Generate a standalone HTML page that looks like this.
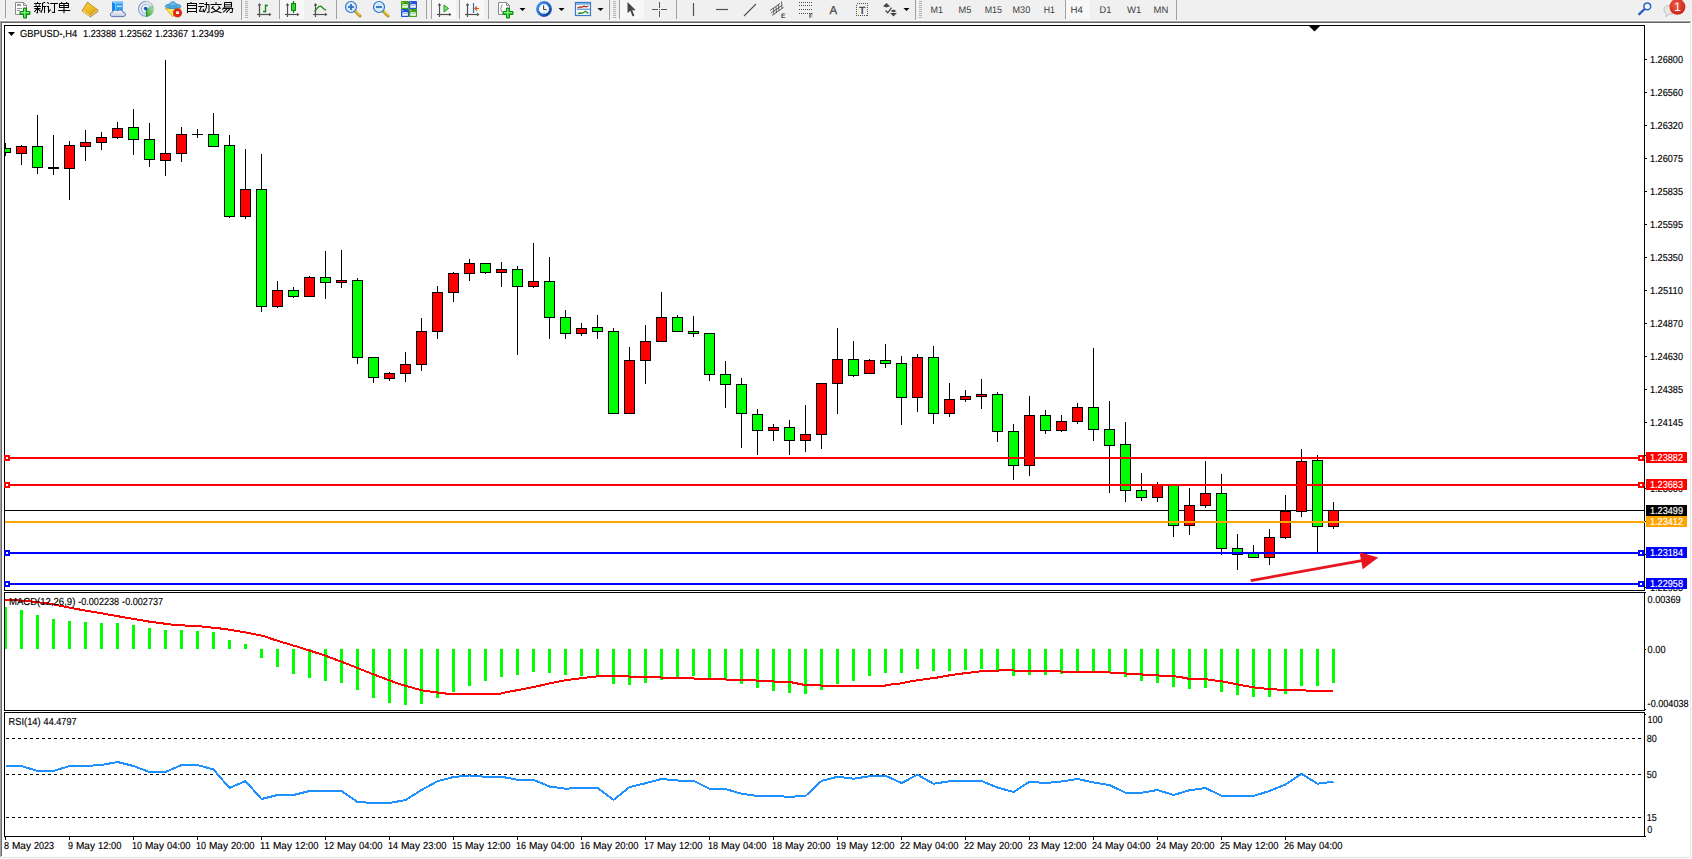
<!DOCTYPE html>
<html><head><meta charset="utf-8"><title>GBPUSD H4</title>
<style>html,body{margin:0;padding:0;background:#fff;}body{width:1692px;height:859px;overflow:hidden;font-family:"Liberation Sans",sans-serif;}svg{display:block;position:absolute;left:0;top:0;}text{font-family:"Liberation Sans",sans-serif;text-rendering:geometricPrecision;}</style></head><body>
<svg width="1692" height="859" viewBox="0 0 1692 859">
<rect x="0" y="0" width="1692" height="859" fill="#ffffff"/>
<g shape-rendering="crispEdges">
<rect x="0" y="0" width="1692" height="20" fill="#f0f0f0"/>
<rect x="0" y="20" width="1692" height="1" fill="#fbfbfb"/>
<rect x="0" y="21" width="1691" height="1" fill="#a0a0a0"/>
<rect x="1" y="22" width="1689" height="1" fill="#696969"/>
<rect x="0" y="21" width="1" height="836" fill="#a0a0a0"/>
<rect x="1" y="22" width="1" height="834" fill="#696969"/>
<rect x="1690" y="22" width="1" height="836" fill="#e3e3e3"/>
<rect x="1" y="857" width="1690" height="1" fill="#e3e3e3"/>
</g>
<g shape-rendering="crispEdges">
<clipPath id="cm"><rect x="4" y="25" width="1641" height="566"/></clipPath>
<rect x="5" y="510" width="1639" height="1" fill="#000"/>
<g clip-path="url(#cm)">
<rect x="5" y="143" width="1" height="13" fill="#000"/>
<rect x="0" y="148" width="11" height="5" fill="#000"/>
<rect x="1" y="149" width="9" height="3" fill="#00ff00"/>
<rect x="21" y="145" width="1" height="20" fill="#000"/>
<rect x="16" y="146" width="11" height="8" fill="#000"/>
<rect x="17" y="147" width="9" height="6" fill="#ff0000"/>
<rect x="37" y="115" width="1" height="59" fill="#000"/>
<rect x="32" y="146" width="11" height="22" fill="#000"/>
<rect x="33" y="147" width="9" height="20" fill="#00ff00"/>
<rect x="53" y="135" width="1" height="40" fill="#000"/>
<rect x="48" y="167" width="11" height="2" fill="#000"/>
<rect x="69" y="141" width="1" height="59" fill="#000"/>
<rect x="64" y="145" width="11" height="24" fill="#000"/>
<rect x="65" y="146" width="9" height="22" fill="#ff0000"/>
<rect x="85" y="130" width="1" height="31" fill="#000"/>
<rect x="80" y="142" width="11" height="5" fill="#000"/>
<rect x="81" y="143" width="9" height="3" fill="#ff0000"/>
<rect x="101" y="132" width="1" height="18" fill="#000"/>
<rect x="96" y="137" width="11" height="6" fill="#000"/>
<rect x="97" y="138" width="9" height="4" fill="#ff0000"/>
<rect x="117" y="122" width="1" height="17" fill="#000"/>
<rect x="112" y="128" width="11" height="10" fill="#000"/>
<rect x="113" y="129" width="9" height="8" fill="#ff0000"/>
<rect x="133" y="109" width="1" height="46" fill="#000"/>
<rect x="128" y="127" width="11" height="13" fill="#000"/>
<rect x="129" y="128" width="9" height="11" fill="#00ff00"/>
<rect x="149" y="123" width="1" height="44" fill="#000"/>
<rect x="144" y="139" width="11" height="21" fill="#000"/>
<rect x="145" y="140" width="9" height="19" fill="#00ff00"/>
<rect x="165" y="60" width="1" height="116" fill="#000"/>
<rect x="160" y="153" width="11" height="8" fill="#000"/>
<rect x="161" y="154" width="9" height="6" fill="#ff0000"/>
<rect x="181" y="127" width="1" height="35" fill="#000"/>
<rect x="176" y="134" width="11" height="20" fill="#000"/>
<rect x="177" y="135" width="9" height="18" fill="#ff0000"/>
<rect x="197" y="129" width="1" height="9" fill="#000"/>
<rect x="192" y="134" width="11" height="1" fill="#000"/>
<rect x="213" y="113" width="1" height="34" fill="#000"/>
<rect x="208" y="134" width="11" height="13" fill="#000"/>
<rect x="209" y="135" width="9" height="11" fill="#00ff00"/>
<rect x="229" y="135" width="1" height="83" fill="#000"/>
<rect x="224" y="145" width="11" height="72" fill="#000"/>
<rect x="225" y="146" width="9" height="70" fill="#00ff00"/>
<rect x="245" y="149" width="1" height="70" fill="#000"/>
<rect x="240" y="189" width="11" height="28" fill="#000"/>
<rect x="241" y="190" width="9" height="26" fill="#ff0000"/>
<rect x="261" y="154" width="1" height="158" fill="#000"/>
<rect x="256" y="189" width="11" height="118" fill="#000"/>
<rect x="257" y="190" width="9" height="116" fill="#00ff00"/>
<rect x="277" y="281" width="1" height="27" fill="#000"/>
<rect x="272" y="290" width="11" height="17" fill="#000"/>
<rect x="273" y="291" width="9" height="15" fill="#ff0000"/>
<rect x="293" y="287" width="1" height="11" fill="#000"/>
<rect x="288" y="290" width="11" height="7" fill="#000"/>
<rect x="289" y="291" width="9" height="5" fill="#00ff00"/>
<rect x="309" y="276" width="1" height="21" fill="#000"/>
<rect x="304" y="277" width="11" height="20" fill="#000"/>
<rect x="305" y="278" width="9" height="18" fill="#ff0000"/>
<rect x="325" y="251" width="1" height="48" fill="#000"/>
<rect x="320" y="277" width="11" height="6" fill="#000"/>
<rect x="321" y="278" width="9" height="4" fill="#00ff00"/>
<rect x="341" y="250" width="1" height="38" fill="#000"/>
<rect x="336" y="280" width="11" height="3" fill="#000"/>
<rect x="337" y="281" width="9" height="1" fill="#ff0000"/>
<rect x="357" y="278" width="1" height="86" fill="#000"/>
<rect x="352" y="280" width="11" height="78" fill="#000"/>
<rect x="353" y="281" width="9" height="76" fill="#00ff00"/>
<rect x="373" y="357" width="1" height="26" fill="#000"/>
<rect x="368" y="357" width="11" height="21" fill="#000"/>
<rect x="369" y="358" width="9" height="19" fill="#00ff00"/>
<rect x="389" y="372" width="1" height="9" fill="#000"/>
<rect x="384" y="373" width="11" height="6" fill="#000"/>
<rect x="385" y="374" width="9" height="4" fill="#ff0000"/>
<rect x="405" y="352" width="1" height="30" fill="#000"/>
<rect x="400" y="364" width="11" height="10" fill="#000"/>
<rect x="401" y="365" width="9" height="8" fill="#ff0000"/>
<rect x="421" y="318" width="1" height="53" fill="#000"/>
<rect x="416" y="331" width="11" height="34" fill="#000"/>
<rect x="417" y="332" width="9" height="32" fill="#ff0000"/>
<rect x="437" y="286" width="1" height="53" fill="#000"/>
<rect x="432" y="292" width="11" height="40" fill="#000"/>
<rect x="433" y="293" width="9" height="38" fill="#ff0000"/>
<rect x="453" y="272" width="1" height="30" fill="#000"/>
<rect x="448" y="273" width="11" height="20" fill="#000"/>
<rect x="449" y="274" width="9" height="18" fill="#ff0000"/>
<rect x="469" y="259" width="1" height="22" fill="#000"/>
<rect x="464" y="263" width="11" height="11" fill="#000"/>
<rect x="465" y="264" width="9" height="9" fill="#ff0000"/>
<rect x="485" y="263" width="1" height="11" fill="#000"/>
<rect x="480" y="263" width="11" height="10" fill="#000"/>
<rect x="481" y="264" width="9" height="8" fill="#00ff00"/>
<rect x="501" y="262" width="1" height="25" fill="#000"/>
<rect x="496" y="269" width="11" height="4" fill="#000"/>
<rect x="497" y="270" width="9" height="2" fill="#ff0000"/>
<rect x="517" y="266" width="1" height="89" fill="#000"/>
<rect x="512" y="269" width="11" height="18" fill="#000"/>
<rect x="513" y="270" width="9" height="16" fill="#00ff00"/>
<rect x="533" y="243" width="1" height="45" fill="#000"/>
<rect x="528" y="281" width="11" height="6" fill="#000"/>
<rect x="529" y="282" width="9" height="4" fill="#ff0000"/>
<rect x="549" y="257" width="1" height="82" fill="#000"/>
<rect x="544" y="281" width="11" height="37" fill="#000"/>
<rect x="545" y="282" width="9" height="35" fill="#00ff00"/>
<rect x="565" y="310" width="1" height="29" fill="#000"/>
<rect x="560" y="317" width="11" height="17" fill="#000"/>
<rect x="561" y="318" width="9" height="15" fill="#00ff00"/>
<rect x="581" y="323" width="1" height="13" fill="#000"/>
<rect x="576" y="328" width="11" height="6" fill="#000"/>
<rect x="577" y="329" width="9" height="4" fill="#ff0000"/>
<rect x="597" y="315" width="1" height="24" fill="#000"/>
<rect x="592" y="327" width="11" height="5" fill="#000"/>
<rect x="593" y="328" width="9" height="3" fill="#00ff00"/>
<rect x="613" y="328" width="1" height="86" fill="#000"/>
<rect x="608" y="331" width="11" height="83" fill="#000"/>
<rect x="609" y="332" width="9" height="81" fill="#00ff00"/>
<rect x="629" y="347" width="1" height="67" fill="#000"/>
<rect x="624" y="360" width="11" height="54" fill="#000"/>
<rect x="625" y="361" width="9" height="52" fill="#ff0000"/>
<rect x="645" y="325" width="1" height="59" fill="#000"/>
<rect x="640" y="341" width="11" height="20" fill="#000"/>
<rect x="641" y="342" width="9" height="18" fill="#ff0000"/>
<rect x="661" y="292" width="1" height="50" fill="#000"/>
<rect x="656" y="317" width="11" height="25" fill="#000"/>
<rect x="657" y="318" width="9" height="23" fill="#ff0000"/>
<rect x="677" y="315" width="1" height="17" fill="#000"/>
<rect x="672" y="317" width="11" height="15" fill="#000"/>
<rect x="673" y="318" width="9" height="13" fill="#00ff00"/>
<rect x="693" y="316" width="1" height="21" fill="#000"/>
<rect x="688" y="331" width="11" height="3" fill="#000"/>
<rect x="689" y="332" width="9" height="1" fill="#00ff00"/>
<rect x="709" y="333" width="1" height="48" fill="#000"/>
<rect x="704" y="333" width="11" height="42" fill="#000"/>
<rect x="705" y="334" width="9" height="40" fill="#00ff00"/>
<rect x="725" y="361" width="1" height="47" fill="#000"/>
<rect x="720" y="374" width="11" height="11" fill="#000"/>
<rect x="721" y="375" width="9" height="9" fill="#00ff00"/>
<rect x="741" y="378" width="1" height="70" fill="#000"/>
<rect x="736" y="384" width="11" height="30" fill="#000"/>
<rect x="737" y="385" width="9" height="28" fill="#00ff00"/>
<rect x="757" y="409" width="1" height="46" fill="#000"/>
<rect x="752" y="414" width="11" height="17" fill="#000"/>
<rect x="753" y="415" width="9" height="15" fill="#00ff00"/>
<rect x="773" y="424" width="1" height="17" fill="#000"/>
<rect x="768" y="427" width="11" height="4" fill="#000"/>
<rect x="769" y="428" width="9" height="2" fill="#ff0000"/>
<rect x="789" y="420" width="1" height="35" fill="#000"/>
<rect x="784" y="427" width="11" height="14" fill="#000"/>
<rect x="785" y="428" width="9" height="12" fill="#00ff00"/>
<rect x="805" y="405" width="1" height="47" fill="#000"/>
<rect x="800" y="434" width="11" height="7" fill="#000"/>
<rect x="801" y="435" width="9" height="5" fill="#ff0000"/>
<rect x="821" y="383" width="1" height="66" fill="#000"/>
<rect x="816" y="383" width="11" height="52" fill="#000"/>
<rect x="817" y="384" width="9" height="50" fill="#ff0000"/>
<rect x="837" y="328" width="1" height="86" fill="#000"/>
<rect x="832" y="359" width="11" height="25" fill="#000"/>
<rect x="833" y="360" width="9" height="23" fill="#ff0000"/>
<rect x="853" y="341" width="1" height="36" fill="#000"/>
<rect x="848" y="359" width="11" height="17" fill="#000"/>
<rect x="849" y="360" width="9" height="15" fill="#00ff00"/>
<rect x="869" y="359" width="1" height="15" fill="#000"/>
<rect x="864" y="360" width="11" height="14" fill="#000"/>
<rect x="865" y="361" width="9" height="12" fill="#ff0000"/>
<rect x="885" y="344" width="1" height="24" fill="#000"/>
<rect x="880" y="360" width="11" height="4" fill="#000"/>
<rect x="881" y="361" width="9" height="2" fill="#00ff00"/>
<rect x="901" y="356" width="1" height="69" fill="#000"/>
<rect x="896" y="363" width="11" height="35" fill="#000"/>
<rect x="897" y="364" width="9" height="33" fill="#00ff00"/>
<rect x="917" y="354" width="1" height="58" fill="#000"/>
<rect x="912" y="357" width="11" height="41" fill="#000"/>
<rect x="913" y="358" width="9" height="39" fill="#ff0000"/>
<rect x="933" y="346" width="1" height="78" fill="#000"/>
<rect x="928" y="357" width="11" height="57" fill="#000"/>
<rect x="929" y="358" width="9" height="55" fill="#00ff00"/>
<rect x="949" y="383" width="1" height="34" fill="#000"/>
<rect x="944" y="399" width="11" height="15" fill="#000"/>
<rect x="945" y="400" width="9" height="13" fill="#ff0000"/>
<rect x="965" y="390" width="1" height="12" fill="#000"/>
<rect x="960" y="396" width="11" height="4" fill="#000"/>
<rect x="961" y="397" width="9" height="2" fill="#ff0000"/>
<rect x="981" y="379" width="1" height="30" fill="#000"/>
<rect x="976" y="394" width="11" height="3" fill="#000"/>
<rect x="977" y="395" width="9" height="1" fill="#ff0000"/>
<rect x="997" y="392" width="1" height="50" fill="#000"/>
<rect x="992" y="394" width="11" height="38" fill="#000"/>
<rect x="993" y="395" width="9" height="36" fill="#00ff00"/>
<rect x="1013" y="424" width="1" height="56" fill="#000"/>
<rect x="1008" y="431" width="11" height="35" fill="#000"/>
<rect x="1009" y="432" width="9" height="33" fill="#00ff00"/>
<rect x="1029" y="396" width="1" height="80" fill="#000"/>
<rect x="1024" y="415" width="11" height="51" fill="#000"/>
<rect x="1025" y="416" width="9" height="49" fill="#ff0000"/>
<rect x="1045" y="410" width="1" height="24" fill="#000"/>
<rect x="1040" y="415" width="11" height="16" fill="#000"/>
<rect x="1041" y="416" width="9" height="14" fill="#00ff00"/>
<rect x="1061" y="415" width="1" height="17" fill="#000"/>
<rect x="1056" y="421" width="11" height="10" fill="#000"/>
<rect x="1057" y="422" width="9" height="8" fill="#ff0000"/>
<rect x="1077" y="403" width="1" height="21" fill="#000"/>
<rect x="1072" y="407" width="11" height="15" fill="#000"/>
<rect x="1073" y="408" width="9" height="13" fill="#ff0000"/>
<rect x="1093" y="348" width="1" height="93" fill="#000"/>
<rect x="1088" y="407" width="11" height="23" fill="#000"/>
<rect x="1089" y="408" width="9" height="21" fill="#00ff00"/>
<rect x="1109" y="401" width="1" height="92" fill="#000"/>
<rect x="1104" y="429" width="11" height="17" fill="#000"/>
<rect x="1105" y="430" width="9" height="15" fill="#00ff00"/>
<rect x="1125" y="422" width="1" height="80" fill="#000"/>
<rect x="1120" y="444" width="11" height="47" fill="#000"/>
<rect x="1121" y="445" width="9" height="45" fill="#00ff00"/>
<rect x="1141" y="473" width="1" height="28" fill="#000"/>
<rect x="1136" y="490" width="11" height="8" fill="#000"/>
<rect x="1137" y="491" width="9" height="6" fill="#00ff00"/>
<rect x="1157" y="482" width="1" height="20" fill="#000"/>
<rect x="1152" y="485" width="11" height="13" fill="#000"/>
<rect x="1153" y="486" width="9" height="11" fill="#ff0000"/>
<rect x="1173" y="485" width="1" height="52" fill="#000"/>
<rect x="1168" y="485" width="11" height="41" fill="#000"/>
<rect x="1169" y="486" width="9" height="39" fill="#00ff00"/>
<rect x="1189" y="488" width="1" height="47" fill="#000"/>
<rect x="1184" y="505" width="11" height="21" fill="#000"/>
<rect x="1185" y="506" width="9" height="19" fill="#ff0000"/>
<rect x="1205" y="461" width="1" height="47" fill="#000"/>
<rect x="1200" y="493" width="11" height="13" fill="#000"/>
<rect x="1201" y="494" width="9" height="11" fill="#ff0000"/>
<rect x="1221" y="474" width="1" height="81" fill="#000"/>
<rect x="1216" y="493" width="11" height="56" fill="#000"/>
<rect x="1217" y="494" width="9" height="54" fill="#00ff00"/>
<rect x="1237" y="534" width="1" height="36" fill="#000"/>
<rect x="1232" y="548" width="11" height="7" fill="#000"/>
<rect x="1233" y="549" width="9" height="5" fill="#00ff00"/>
<rect x="1253" y="545" width="1" height="13" fill="#000"/>
<rect x="1248" y="553" width="11" height="5" fill="#000"/>
<rect x="1249" y="554" width="9" height="3" fill="#00ff00"/>
<rect x="1269" y="529" width="1" height="36" fill="#000"/>
<rect x="1264" y="537" width="11" height="21" fill="#000"/>
<rect x="1265" y="538" width="9" height="19" fill="#ff0000"/>
<rect x="1285" y="495" width="1" height="44" fill="#000"/>
<rect x="1280" y="511" width="11" height="27" fill="#000"/>
<rect x="1281" y="512" width="9" height="25" fill="#ff0000"/>
<rect x="1301" y="449" width="1" height="68" fill="#000"/>
<rect x="1296" y="461" width="11" height="51" fill="#000"/>
<rect x="1297" y="462" width="9" height="49" fill="#ff0000"/>
<rect x="1317" y="455" width="1" height="98" fill="#000"/>
<rect x="1312" y="460" width="11" height="67" fill="#000"/>
<rect x="1313" y="461" width="9" height="65" fill="#00ff00"/>
<rect x="1333" y="502" width="1" height="27" fill="#000"/>
<rect x="1328" y="510" width="11" height="17" fill="#000"/>
<rect x="1329" y="511" width="9" height="15" fill="#ff0000"/>
</g>
<rect x="4" y="25" width="1641" height="1" fill="#000"/>
<rect x="4" y="25" width="1" height="566" fill="#000"/>
<rect x="4" y="590" width="1641" height="1" fill="#000"/>
<rect x="1644" y="25" width="1" height="566" fill="#000"/><rect x="1644" y="592" width="1" height="119" fill="#000"/><rect x="1644" y="712" width="1" height="125" fill="#000"/>
<rect x="4" y="592" width="1641" height="1" fill="#000"/>
<rect x="4" y="592" width="1" height="119" fill="#000"/>
<rect x="4" y="710" width="1641" height="1" fill="#000"/>
<rect x="4" y="712" width="1641" height="1" fill="#000"/>
<rect x="4" y="712" width="1" height="125" fill="#000"/>
<rect x="4" y="836" width="1641" height="1" fill="#000"/>
<rect x="5" y="457" width="1640" height="2" fill="#ff0000"/>
<rect x="5" y="484" width="1640" height="2" fill="#ff0000"/>
<rect x="5" y="521" width="1640" height="2" fill="#ffa500"/>
<rect x="5" y="552" width="1640" height="2" fill="#0000ff"/>
<rect x="5" y="583" width="1640" height="2" fill="#0000ff"/>
<rect x="4" y="455" width="6" height="6" fill="#ff0000"/>
<rect x="6" y="457" width="2" height="2" fill="#fff"/>
<rect x="1638" y="455" width="6" height="6" fill="#ff0000"/>
<rect x="1640" y="457" width="2" height="2" fill="#fff"/>
<rect x="4" y="482" width="6" height="6" fill="#ff0000"/>
<rect x="6" y="484" width="2" height="2" fill="#fff"/>
<rect x="1638" y="482" width="6" height="6" fill="#ff0000"/>
<rect x="1640" y="484" width="2" height="2" fill="#fff"/>
<rect x="4" y="550" width="6" height="6" fill="#0000ff"/>
<rect x="6" y="552" width="2" height="2" fill="#fff"/>
<rect x="1638" y="550" width="6" height="6" fill="#0000ff"/>
<rect x="1640" y="552" width="2" height="2" fill="#fff"/>
<rect x="4" y="581" width="6" height="6" fill="#0000ff"/>
<rect x="6" y="583" width="2" height="2" fill="#fff"/>
<rect x="1638" y="581" width="6" height="6" fill="#0000ff"/>
<rect x="1640" y="583" width="2" height="2" fill="#fff"/>
<rect x="5" y="607" width="2" height="42" fill="#00ff00"/>
<rect x="20" y="610" width="3" height="39" fill="#00ff00"/>
<rect x="36" y="615" width="3" height="34" fill="#00ff00"/>
<rect x="52" y="619" width="3" height="30" fill="#00ff00"/>
<rect x="68" y="621" width="3" height="28" fill="#00ff00"/>
<rect x="84" y="622" width="3" height="27" fill="#00ff00"/>
<rect x="100" y="623" width="3" height="26" fill="#00ff00"/>
<rect x="116" y="623" width="3" height="26" fill="#00ff00"/>
<rect x="132" y="625" width="3" height="24" fill="#00ff00"/>
<rect x="148" y="628" width="3" height="21" fill="#00ff00"/>
<rect x="164" y="630" width="3" height="19" fill="#00ff00"/>
<rect x="180" y="630" width="3" height="19" fill="#00ff00"/>
<rect x="196" y="631" width="3" height="18" fill="#00ff00"/>
<rect x="212" y="632" width="3" height="17" fill="#00ff00"/>
<rect x="228" y="640" width="3" height="9" fill="#00ff00"/>
<rect x="244" y="644" width="3" height="5" fill="#00ff00"/>
<rect x="260" y="649" width="3" height="9" fill="#00ff00"/>
<rect x="276" y="649" width="3" height="18" fill="#00ff00"/>
<rect x="292" y="649" width="3" height="25" fill="#00ff00"/>
<rect x="308" y="649" width="3" height="29" fill="#00ff00"/>
<rect x="324" y="649" width="3" height="32" fill="#00ff00"/>
<rect x="340" y="649" width="3" height="34" fill="#00ff00"/>
<rect x="356" y="649" width="3" height="41" fill="#00ff00"/>
<rect x="372" y="649" width="3" height="49" fill="#00ff00"/>
<rect x="388" y="649" width="3" height="54" fill="#00ff00"/>
<rect x="404" y="649" width="3" height="56" fill="#00ff00"/>
<rect x="420" y="649" width="3" height="55" fill="#00ff00"/>
<rect x="436" y="649" width="3" height="49" fill="#00ff00"/>
<rect x="452" y="649" width="3" height="43" fill="#00ff00"/>
<rect x="468" y="649" width="3" height="37" fill="#00ff00"/>
<rect x="484" y="649" width="3" height="32" fill="#00ff00"/>
<rect x="500" y="649" width="3" height="28" fill="#00ff00"/>
<rect x="516" y="649" width="3" height="26" fill="#00ff00"/>
<rect x="532" y="649" width="3" height="23" fill="#00ff00"/>
<rect x="548" y="649" width="3" height="24" fill="#00ff00"/>
<rect x="564" y="649" width="3" height="26" fill="#00ff00"/>
<rect x="580" y="649" width="3" height="27" fill="#00ff00"/>
<rect x="596" y="649" width="3" height="28" fill="#00ff00"/>
<rect x="612" y="649" width="3" height="35" fill="#00ff00"/>
<rect x="628" y="649" width="3" height="36" fill="#00ff00"/>
<rect x="644" y="649" width="3" height="34" fill="#00ff00"/>
<rect x="660" y="649" width="3" height="31" fill="#00ff00"/>
<rect x="676" y="649" width="3" height="29" fill="#00ff00"/>
<rect x="692" y="649" width="3" height="27" fill="#00ff00"/>
<rect x="708" y="649" width="3" height="30" fill="#00ff00"/>
<rect x="724" y="649" width="3" height="31" fill="#00ff00"/>
<rect x="740" y="649" width="3" height="35" fill="#00ff00"/>
<rect x="756" y="649" width="3" height="39" fill="#00ff00"/>
<rect x="772" y="649" width="3" height="42" fill="#00ff00"/>
<rect x="788" y="649" width="3" height="44" fill="#00ff00"/>
<rect x="804" y="649" width="3" height="45" fill="#00ff00"/>
<rect x="820" y="649" width="3" height="41" fill="#00ff00"/>
<rect x="836" y="649" width="3" height="35" fill="#00ff00"/>
<rect x="852" y="649" width="3" height="32" fill="#00ff00"/>
<rect x="868" y="649" width="3" height="27" fill="#00ff00"/>
<rect x="884" y="649" width="3" height="24" fill="#00ff00"/>
<rect x="900" y="649" width="3" height="24" fill="#00ff00"/>
<rect x="916" y="649" width="3" height="20" fill="#00ff00"/>
<rect x="932" y="649" width="3" height="22" fill="#00ff00"/>
<rect x="948" y="649" width="3" height="22" fill="#00ff00"/>
<rect x="964" y="649" width="3" height="21" fill="#00ff00"/>
<rect x="980" y="649" width="3" height="20" fill="#00ff00"/>
<rect x="996" y="649" width="3" height="22" fill="#00ff00"/>
<rect x="1012" y="649" width="3" height="27" fill="#00ff00"/>
<rect x="1028" y="649" width="3" height="26" fill="#00ff00"/>
<rect x="1044" y="649" width="3" height="26" fill="#00ff00"/>
<rect x="1060" y="649" width="3" height="25" fill="#00ff00"/>
<rect x="1076" y="649" width="3" height="23" fill="#00ff00"/>
<rect x="1092" y="649" width="3" height="23" fill="#00ff00"/>
<rect x="1108" y="649" width="3" height="24" fill="#00ff00"/>
<rect x="1124" y="649" width="3" height="28" fill="#00ff00"/>
<rect x="1140" y="649" width="3" height="32" fill="#00ff00"/>
<rect x="1156" y="649" width="3" height="34" fill="#00ff00"/>
<rect x="1172" y="649" width="3" height="38" fill="#00ff00"/>
<rect x="1188" y="649" width="3" height="40" fill="#00ff00"/>
<rect x="1204" y="649" width="3" height="39" fill="#00ff00"/>
<rect x="1220" y="649" width="3" height="43" fill="#00ff00"/>
<rect x="1236" y="649" width="3" height="46" fill="#00ff00"/>
<rect x="1252" y="649" width="3" height="48" fill="#00ff00"/>
<rect x="1268" y="649" width="3" height="48" fill="#00ff00"/>
<rect x="1284" y="649" width="3" height="45" fill="#00ff00"/>
<rect x="1300" y="649" width="3" height="37" fill="#00ff00"/>
<rect x="1316" y="649" width="3" height="37" fill="#00ff00"/>
<rect x="1332" y="649" width="3" height="34" fill="#00ff00"/>
<polyline points="5,599.8 25,600.8 50,603.6 75,608.75 100,613 125,617.5 150,621.75 175,625 200,626.25 225,629 250,633.25 262.5,635.75 275,640 300,647.5 325,655.5 350,665 375,675 400,684.25 410,687 422.5,690.5 437.5,692.5 447.5,693.75 500,693.75 507.5,692 525,688.75 537.5,686.25 550,683.25 562.5,680.75 575,679 587.5,677.5 600,676 627.5,676 630,677 660,677 662.5,678 692.5,678 695,679 725,679 727.5,680 755,680 757.5,681 772.5,681 775,682 790,682 797.5,683.5 805,685 820,685 822.5,686 885,686 886,685 900,683.5 912.5,681 925,679.25 937.5,677.5 950,675.25 962.5,673.5 975,672 982.5,671 997.5,671 1000,670 1012.5,670 1015,671 1060,671 1062.5,672 1108.75,672 1111,673 1125,673 1127.5,674 1141,674 1143.75,675 1157.5,675 1160,676 1172.5,676 1182.5,677.5 1190,679 1205,679 1212.5,680.25 1220,681 1232,683.3 1243.6,685.6 1258,688 1270,689 1287,690.3 1333.5,690.8" fill="none" stroke="#ff0000" stroke-width="2"/>
<line x1="6" y1="738.5" x2="1644" y2="738.5" stroke="#000" stroke-width="1" stroke-dasharray="3,3"/>
<line x1="6" y1="774.5" x2="1644" y2="774.5" stroke="#000" stroke-width="1" stroke-dasharray="3,3"/>
<line x1="6" y1="817.5" x2="1644" y2="817.5" stroke="#000" stroke-width="1" stroke-dasharray="3,3"/>
<polyline points="5.5,766 21.5,766 37.5,771 53.5,771 69.5,766 85.5,766 101.5,765 117.5,762 133.5,766 149.5,772 165.5,772 181.5,765 197.5,765 213.5,769.5 229.5,788 245.5,781 261.5,799 277.5,795 293.5,795 309.5,791 325.5,791 341.5,791 357.5,802 373.5,803 389.5,803 405.5,800 421.5,790 437.5,781.25 453.5,777 469.5,775.5 485.5,776.75 501.5,776.75 517.5,779.75 533.5,779.75 549.5,786.5 565.5,788.75 581.5,787.75 597.5,787.75 613.5,800 629.5,787 645.5,783.25 661.5,779 677.5,780.5 693.5,780.75 709.5,788.75 725.5,789 741.5,793.75 757.5,796 773.5,796 789.5,796.75 805.5,796 821.5,781 837.5,776.75 853.5,778.75 869.5,776.25 885.5,775.75 901.5,783 917.5,774.75 933.5,783.75 949.5,781.25 965.5,781 981.5,781 997.5,787.5 1013.5,792 1029.5,781.75 1045.5,783 1061.5,781.5 1077.5,779 1093.5,782.5 1109.5,785 1125.5,792.75 1141.5,792.75 1157.5,790 1173.5,795 1189.5,790.25 1205.5,788 1221.5,795.75 1237.5,796 1253.5,796 1269.5,791 1285.5,784.5 1301.5,773.75 1317.5,783.75 1333.5,781.75" fill="none" stroke="#1e90ff" stroke-width="2"/>
<rect x="1645" y="59" width="2" height="1" fill="#000"/>
<rect x="1645" y="92" width="2" height="1" fill="#000"/>
<rect x="1645" y="125" width="2" height="1" fill="#000"/>
<rect x="1645" y="158" width="2" height="1" fill="#000"/>
<rect x="1645" y="191" width="2" height="1" fill="#000"/>
<rect x="1645" y="224" width="2" height="1" fill="#000"/>
<rect x="1645" y="257" width="2" height="1" fill="#000"/>
<rect x="1645" y="290" width="2" height="1" fill="#000"/>
<rect x="1645" y="323" width="2" height="1" fill="#000"/>
<rect x="1645" y="356" width="2" height="1" fill="#000"/>
<rect x="1645" y="389" width="2" height="1" fill="#000"/>
<rect x="1645" y="422" width="2" height="1" fill="#000"/>
<rect x="1645" y="455" width="2" height="1" fill="#000"/>
<rect x="1645" y="488" width="2" height="1" fill="#000"/>
<rect x="1645" y="521" width="2" height="1" fill="#000"/>
<rect x="1645" y="554" width="2" height="1" fill="#000"/>
<rect x="1645" y="587" width="2" height="1" fill="#000"/>
<rect x="1645" y="649" width="1" height="1" fill="#000"/>
<rect x="1645" y="592" width="1" height="1" fill="#000"/><rect x="1645" y="709" width="1" height="1" fill="#000"/><rect x="1645" y="714" width="1" height="1" fill="#000"/><rect x="1645" y="836" width="1" height="1" fill="#000"/>
<rect x="5" y="837" width="1" height="3" fill="#000"/>
<rect x="69" y="837" width="1" height="3" fill="#000"/>
<rect x="133" y="837" width="1" height="3" fill="#000"/>
<rect x="197" y="837" width="1" height="3" fill="#000"/>
<rect x="261" y="837" width="1" height="3" fill="#000"/>
<rect x="325" y="837" width="1" height="3" fill="#000"/>
<rect x="389" y="837" width="1" height="3" fill="#000"/>
<rect x="453" y="837" width="1" height="3" fill="#000"/>
<rect x="517" y="837" width="1" height="3" fill="#000"/>
<rect x="581" y="837" width="1" height="3" fill="#000"/>
<rect x="645" y="837" width="1" height="3" fill="#000"/>
<rect x="709" y="837" width="1" height="3" fill="#000"/>
<rect x="773" y="837" width="1" height="3" fill="#000"/>
<rect x="837" y="837" width="1" height="3" fill="#000"/>
<rect x="901" y="837" width="1" height="3" fill="#000"/>
<rect x="965" y="837" width="1" height="3" fill="#000"/>
<rect x="1029" y="837" width="1" height="3" fill="#000"/>
<rect x="1093" y="837" width="1" height="3" fill="#000"/>
<rect x="1157" y="837" width="1" height="3" fill="#000"/>
<rect x="1221" y="837" width="1" height="3" fill="#000"/>
<rect x="1285" y="837" width="1" height="3" fill="#000"/>
</g>
<text transform="translate(1650.00 63) scale(0.8950 1)" font-size="10.2" fill="#000" stroke="#000" stroke-width="0.15">1.26800</text>
<text transform="translate(1650.00 96) scale(0.8950 1)" font-size="10.2" fill="#000" stroke="#000" stroke-width="0.15">1.26560</text>
<text transform="translate(1650.00 129) scale(0.8950 1)" font-size="10.2" fill="#000" stroke="#000" stroke-width="0.15">1.26320</text>
<text transform="translate(1650.00 162) scale(0.8950 1)" font-size="10.2" fill="#000" stroke="#000" stroke-width="0.15">1.26075</text>
<text transform="translate(1650.00 195) scale(0.8950 1)" font-size="10.2" fill="#000" stroke="#000" stroke-width="0.15">1.25835</text>
<text transform="translate(1650.00 228) scale(0.8950 1)" font-size="10.2" fill="#000" stroke="#000" stroke-width="0.15">1.25595</text>
<text transform="translate(1650.00 261) scale(0.8950 1)" font-size="10.2" fill="#000" stroke="#000" stroke-width="0.15">1.25350</text>
<text transform="translate(1650.00 294) scale(0.9138 1)" font-size="10.2" fill="#000" stroke="#000" stroke-width="0.15">1.25110</text>
<text transform="translate(1650.00 327) scale(0.8950 1)" font-size="10.2" fill="#000" stroke="#000" stroke-width="0.15">1.24870</text>
<text transform="translate(1650.00 360) scale(0.8950 1)" font-size="10.2" fill="#000" stroke="#000" stroke-width="0.15">1.24630</text>
<text transform="translate(1650.00 393) scale(0.8950 1)" font-size="10.2" fill="#000" stroke="#000" stroke-width="0.15">1.24385</text>
<text transform="translate(1650.00 426) scale(0.8950 1)" font-size="10.2" fill="#000" stroke="#000" stroke-width="0.15">1.24145</text>
<text transform="translate(1650.00 492) scale(0.8950 1)" font-size="10.2" fill="#000" stroke="#000" stroke-width="0.15">1.23660</text>
<text transform="translate(1650.00 591) scale(0.8950 1)" font-size="10.2" fill="#000" stroke="#000" stroke-width="0.15">1.22935</text>
<g shape-rendering="crispEdges">
<rect x="1646" y="452" width="41" height="11" fill="#ff0000"/>
<rect x="1646" y="479" width="41" height="11" fill="#ff0000"/>
<rect x="1646" y="505" width="41" height="11" fill="#000000"/>
<rect x="1646" y="516" width="41" height="11" fill="#ffa500"/>
<rect x="1646" y="547" width="41" height="11" fill="#0000ff"/>
<rect x="1646" y="578" width="41" height="11" fill="#0000ff"/>
</g>
<text transform="translate(1650.00 461) scale(0.8950 1)" font-size="10.2" fill="#fff" stroke="#fff" stroke-width="0.15">1.23882</text>
<text transform="translate(1650.00 488) scale(0.8950 1)" font-size="10.2" fill="#fff" stroke="#fff" stroke-width="0.15">1.23683</text>
<text transform="translate(1650.00 514) scale(0.8950 1)" font-size="10.2" fill="#fff" stroke="#fff" stroke-width="0.15">1.23499</text>
<text transform="translate(1650.00 525) scale(0.8950 1)" font-size="10.2" fill="#fff" stroke="#fff" stroke-width="0.15">1.23412</text>
<text transform="translate(1650.00 556) scale(0.8950 1)" font-size="10.2" fill="#fff" stroke="#fff" stroke-width="0.15">1.23184</text>
<text transform="translate(1650.00 587) scale(0.8950 1)" font-size="10.2" fill="#fff" stroke="#fff" stroke-width="0.15">1.22958</text>
<text transform="translate(1647.60 603) scale(0.8950 1)" font-size="10.2" fill="#000" stroke="#000" stroke-width="0.15">0.00369</text>
<text transform="translate(1647.60 653) scale(0.9067 1)" font-size="10.2" fill="#000" stroke="#000" stroke-width="0.15">0.00</text>
<text transform="translate(1647.60 707) scale(0.8925 1)" font-size="10.2" fill="#000" stroke="#000" stroke-width="0.15">-0.004038</text>
<text transform="translate(1647.40 723) scale(0.8814 1)" font-size="10.2" fill="#000" stroke="#000" stroke-width="0.15">100</text>
<text transform="translate(1646.80 742) scale(0.8814 1)" font-size="10.2" fill="#000" stroke="#000" stroke-width="0.15">80</text>
<text transform="translate(1646.80 778) scale(0.8814 1)" font-size="10.2" fill="#000" stroke="#000" stroke-width="0.15">50</text>
<text transform="translate(1646.80 821) scale(0.8814 1)" font-size="10.2" fill="#000" stroke="#000" stroke-width="0.15">15</text>
<text transform="translate(1647.30 833) scale(0.8814 1)" font-size="10.2" fill="#000" stroke="#000" stroke-width="0.15">0</text>
<text transform="translate(20.10 37) scale(0.9159 1)" font-size="10.2" fill="#000" stroke="#000" stroke-width="0.15">GBPUSD-,H4</text>
<text transform="translate(83.10 37) scale(0.8950 1)" font-size="10.2" fill="#000" stroke="#000" stroke-width="0.15">1.23388</text>
<text transform="translate(119.10 37) scale(0.8950 1)" font-size="10.2" fill="#000" stroke="#000" stroke-width="0.15">1.23562</text>
<text transform="translate(155.10 37) scale(0.8950 1)" font-size="10.2" fill="#000" stroke="#000" stroke-width="0.15">1.23367</text>
<text transform="translate(191.10 37) scale(0.8950 1)" font-size="10.2" fill="#000" stroke="#000" stroke-width="0.15">1.23499</text>
<path d="M8 32 L15 32 L11.5 36 Z" fill="#000"/>
<text transform="translate(9.00 605) scale(0.9371 1)" font-size="10.2" fill="#000" stroke="#000" stroke-width="0.15">MACD(12,26,9)</text>
<text transform="translate(78.20 605) scale(0.8925 1)" font-size="10.2" fill="#000" stroke="#000" stroke-width="0.15">-0.002238</text>
<text transform="translate(122.10 605) scale(0.8925 1)" font-size="10.2" fill="#000" stroke="#000" stroke-width="0.15">-0.002737</text>
<text transform="translate(8.60 725) scale(0.9106 1)" font-size="10.2" fill="#000" stroke="#000" stroke-width="0.15">RSI(14)</text>
<text transform="translate(43.60 725) scale(0.8950 1)" font-size="10.2" fill="#000" stroke="#000" stroke-width="0.15">44.4797</text>
<text transform="translate(4.00 849) scale(0.8814 1)" font-size="10.2" fill="#000" stroke="#000" stroke-width="0.15">8</text>
<text transform="translate(12.00 849) scale(0.9860 1)" font-size="10.2" fill="#000" stroke="#000" stroke-width="0.15">May</text>
<text transform="translate(34.00 849) scale(0.8814 1)" font-size="10.2" fill="#000" stroke="#000" stroke-width="0.15">2023</text>
<text transform="translate(68.00 849) scale(0.8814 1)" font-size="10.2" fill="#000" stroke="#000" stroke-width="0.15">9</text>
<text transform="translate(76.00 849) scale(0.9860 1)" font-size="10.2" fill="#000" stroke="#000" stroke-width="0.15">May</text>
<text transform="translate(98.00 849) scale(0.9207 1)" font-size="10.2" fill="#000" stroke="#000" stroke-width="0.15">12:00</text>
<text transform="translate(132.00 849) scale(0.8814 1)" font-size="10.2" fill="#000" stroke="#000" stroke-width="0.15">10</text>
<text transform="translate(145.00 849) scale(0.9860 1)" font-size="10.2" fill="#000" stroke="#000" stroke-width="0.15">May</text>
<text transform="translate(167.00 849) scale(0.9207 1)" font-size="10.2" fill="#000" stroke="#000" stroke-width="0.15">04:00</text>
<text transform="translate(196.00 849) scale(0.8814 1)" font-size="10.2" fill="#000" stroke="#000" stroke-width="0.15">10</text>
<text transform="translate(209.00 849) scale(0.9860 1)" font-size="10.2" fill="#000" stroke="#000" stroke-width="0.15">May</text>
<text transform="translate(231.00 849) scale(0.9207 1)" font-size="10.2" fill="#000" stroke="#000" stroke-width="0.15">20:00</text>
<text transform="translate(260.00 849) scale(0.9444 1)" font-size="10.2" fill="#000" stroke="#000" stroke-width="0.15">11</text>
<text transform="translate(273.00 849) scale(0.9860 1)" font-size="10.2" fill="#000" stroke="#000" stroke-width="0.15">May</text>
<text transform="translate(295.00 849) scale(0.9207 1)" font-size="10.2" fill="#000" stroke="#000" stroke-width="0.15">12:00</text>
<text transform="translate(324.00 849) scale(0.8814 1)" font-size="10.2" fill="#000" stroke="#000" stroke-width="0.15">12</text>
<text transform="translate(337.00 849) scale(0.9860 1)" font-size="10.2" fill="#000" stroke="#000" stroke-width="0.15">May</text>
<text transform="translate(359.00 849) scale(0.9207 1)" font-size="10.2" fill="#000" stroke="#000" stroke-width="0.15">04:00</text>
<text transform="translate(388.00 849) scale(0.8814 1)" font-size="10.2" fill="#000" stroke="#000" stroke-width="0.15">14</text>
<text transform="translate(401.00 849) scale(0.9860 1)" font-size="10.2" fill="#000" stroke="#000" stroke-width="0.15">May</text>
<text transform="translate(423.00 849) scale(0.9207 1)" font-size="10.2" fill="#000" stroke="#000" stroke-width="0.15">23:00</text>
<text transform="translate(452.00 849) scale(0.8814 1)" font-size="10.2" fill="#000" stroke="#000" stroke-width="0.15">15</text>
<text transform="translate(465.00 849) scale(0.9860 1)" font-size="10.2" fill="#000" stroke="#000" stroke-width="0.15">May</text>
<text transform="translate(487.00 849) scale(0.9207 1)" font-size="10.2" fill="#000" stroke="#000" stroke-width="0.15">12:00</text>
<text transform="translate(516.00 849) scale(0.8814 1)" font-size="10.2" fill="#000" stroke="#000" stroke-width="0.15">16</text>
<text transform="translate(529.00 849) scale(0.9860 1)" font-size="10.2" fill="#000" stroke="#000" stroke-width="0.15">May</text>
<text transform="translate(551.00 849) scale(0.9207 1)" font-size="10.2" fill="#000" stroke="#000" stroke-width="0.15">04:00</text>
<text transform="translate(580.00 849) scale(0.8814 1)" font-size="10.2" fill="#000" stroke="#000" stroke-width="0.15">16</text>
<text transform="translate(593.00 849) scale(0.9860 1)" font-size="10.2" fill="#000" stroke="#000" stroke-width="0.15">May</text>
<text transform="translate(615.00 849) scale(0.9207 1)" font-size="10.2" fill="#000" stroke="#000" stroke-width="0.15">20:00</text>
<text transform="translate(644.00 849) scale(0.8814 1)" font-size="10.2" fill="#000" stroke="#000" stroke-width="0.15">17</text>
<text transform="translate(657.00 849) scale(0.9860 1)" font-size="10.2" fill="#000" stroke="#000" stroke-width="0.15">May</text>
<text transform="translate(679.00 849) scale(0.9207 1)" font-size="10.2" fill="#000" stroke="#000" stroke-width="0.15">12:00</text>
<text transform="translate(708.00 849) scale(0.8814 1)" font-size="10.2" fill="#000" stroke="#000" stroke-width="0.15">18</text>
<text transform="translate(721.00 849) scale(0.9860 1)" font-size="10.2" fill="#000" stroke="#000" stroke-width="0.15">May</text>
<text transform="translate(743.00 849) scale(0.9207 1)" font-size="10.2" fill="#000" stroke="#000" stroke-width="0.15">04:00</text>
<text transform="translate(772.00 849) scale(0.8814 1)" font-size="10.2" fill="#000" stroke="#000" stroke-width="0.15">18</text>
<text transform="translate(785.00 849) scale(0.9860 1)" font-size="10.2" fill="#000" stroke="#000" stroke-width="0.15">May</text>
<text transform="translate(807.00 849) scale(0.9207 1)" font-size="10.2" fill="#000" stroke="#000" stroke-width="0.15">20:00</text>
<text transform="translate(836.00 849) scale(0.8814 1)" font-size="10.2" fill="#000" stroke="#000" stroke-width="0.15">19</text>
<text transform="translate(849.00 849) scale(0.9860 1)" font-size="10.2" fill="#000" stroke="#000" stroke-width="0.15">May</text>
<text transform="translate(871.00 849) scale(0.9207 1)" font-size="10.2" fill="#000" stroke="#000" stroke-width="0.15">12:00</text>
<text transform="translate(900.00 849) scale(0.8814 1)" font-size="10.2" fill="#000" stroke="#000" stroke-width="0.15">22</text>
<text transform="translate(913.00 849) scale(0.9860 1)" font-size="10.2" fill="#000" stroke="#000" stroke-width="0.15">May</text>
<text transform="translate(935.00 849) scale(0.9207 1)" font-size="10.2" fill="#000" stroke="#000" stroke-width="0.15">04:00</text>
<text transform="translate(964.00 849) scale(0.8814 1)" font-size="10.2" fill="#000" stroke="#000" stroke-width="0.15">22</text>
<text transform="translate(977.00 849) scale(0.9860 1)" font-size="10.2" fill="#000" stroke="#000" stroke-width="0.15">May</text>
<text transform="translate(999.00 849) scale(0.9207 1)" font-size="10.2" fill="#000" stroke="#000" stroke-width="0.15">20:00</text>
<text transform="translate(1028.00 849) scale(0.8814 1)" font-size="10.2" fill="#000" stroke="#000" stroke-width="0.15">23</text>
<text transform="translate(1041.00 849) scale(0.9860 1)" font-size="10.2" fill="#000" stroke="#000" stroke-width="0.15">May</text>
<text transform="translate(1063.00 849) scale(0.9207 1)" font-size="10.2" fill="#000" stroke="#000" stroke-width="0.15">12:00</text>
<text transform="translate(1092.00 849) scale(0.8814 1)" font-size="10.2" fill="#000" stroke="#000" stroke-width="0.15">24</text>
<text transform="translate(1105.00 849) scale(0.9860 1)" font-size="10.2" fill="#000" stroke="#000" stroke-width="0.15">May</text>
<text transform="translate(1127.00 849) scale(0.9207 1)" font-size="10.2" fill="#000" stroke="#000" stroke-width="0.15">04:00</text>
<text transform="translate(1156.00 849) scale(0.8814 1)" font-size="10.2" fill="#000" stroke="#000" stroke-width="0.15">24</text>
<text transform="translate(1169.00 849) scale(0.9860 1)" font-size="10.2" fill="#000" stroke="#000" stroke-width="0.15">May</text>
<text transform="translate(1191.00 849) scale(0.9207 1)" font-size="10.2" fill="#000" stroke="#000" stroke-width="0.15">20:00</text>
<text transform="translate(1220.00 849) scale(0.8814 1)" font-size="10.2" fill="#000" stroke="#000" stroke-width="0.15">25</text>
<text transform="translate(1233.00 849) scale(0.9860 1)" font-size="10.2" fill="#000" stroke="#000" stroke-width="0.15">May</text>
<text transform="translate(1255.00 849) scale(0.9207 1)" font-size="10.2" fill="#000" stroke="#000" stroke-width="0.15">12:00</text>
<text transform="translate(1284.00 849) scale(0.8814 1)" font-size="10.2" fill="#000" stroke="#000" stroke-width="0.15">26</text>
<text transform="translate(1297.00 849) scale(0.9860 1)" font-size="10.2" fill="#000" stroke="#000" stroke-width="0.15">May</text>
<text transform="translate(1319.00 849) scale(0.9207 1)" font-size="10.2" fill="#000" stroke="#000" stroke-width="0.15">04:00</text>
<path d="M1309 26 L1320 26 L1314.5 31.5 Z" fill="#000"/>
<g fill="#e8141e" stroke="none"><path d="M1250.5 579.3 L1361.5 559.2 L1362 561.9 L1251 582 Z"/><path d="M1359.6 552.2 L1378.3 557.4 L1362.7 569.3 Z"/></g>
<rect x="5" y="0" width="1" height="18" fill="#a0a0a0" shape-rendering="crispEdges"/>
<g><path d="M15.5 2.5 L23.5 2.5 L26.5 5.5 L26.5 14.5 L15.5 14.5 Z" fill="#fdfdfd" stroke="#8a8a8a" stroke-width="1"/><path d="M23.5 2.5 L23.5 5.5 L26.5 5.5" fill="none" stroke="#8a8a8a"/><rect x="17" y="4" width="4" height="2" fill="#9a9a9a"/><rect x="17" y="8" width="5" height="1" fill="#9a9a9a"/><rect x="17" y="10" width="3" height="1" fill="#9a9a9a"/><path d="M23.5 8 L26.5 8 L26.5 11.5 L30 11.5 L30 14.5 L26.5 14.5 L26.5 18 L23.5 18 L23.5 14.5 L20 14.5 L20 11.5 L23.5 11.5 Z" fill="#22c322" stroke="#0a8a0a" stroke-width="1"/><path d="M24.6 9 L24.6 17 M21 12.6 L29 12.6" stroke="#8cf08c" stroke-width="1" fill="none"/></g>
<path d="M37.50 2.00 L37.50 3.60 M34.10 3.50 L40.90 3.50 M35.80 4.30 L36.30 5.90 M39.40 4.30 L39.00 5.90 M33.80 6.50 L41.10 6.50 M34.30 8.50 L40.60 8.50 M37.50 6.50 L37.50 12.80 L36.40 12.40 M36.80 9.20 L34.30 12.00 M38.20 9.20 L40.50 11.40 M45.20 2.30 L42.00 3.60 M42.50 3.40 L42.50 9.00 L40.90 12.80 M42.50 6.50 L46.20 6.50 M44.50 6.50 L44.50 13.00" fill="none" stroke="#000" stroke-width="1.05" stroke-linecap="butt" stroke-linejoin="miter"/>
<path d="M47.40 2.20 L48.80 3.80 M46.80 6.50 L48.50 6.50 L48.50 12.00 L50.60 9.40 M50.20 3.50 L58.00 3.50 M54.50 3.50 L54.50 12.50 L51.80 12.30" fill="none" stroke="#000" stroke-width="1.05" stroke-linecap="butt" stroke-linejoin="miter"/>
<path d="M61.20 2.10 L62.30 3.50 M67.20 2.10 L65.90 3.50 M59.50 3.50 L68.50 3.50 L68.50 7.50 L59.50 7.50 L59.50 3.50 M59.50 5.50 L68.50 5.50 M58.10 10.50 L70.20 10.50 M64.00 3.50 L64.00 13.20" fill="none" stroke="#000" stroke-width="1.05" stroke-linecap="butt" stroke-linejoin="miter"/>
<defs><linearGradient id="gb" x1="0" y1="0" x2="1" y2="1"><stop offset="0" stop-color="#ffd83a"/><stop offset="1" stop-color="#dca010"/></linearGradient><linearGradient id="cl" x1="0" y1="0" x2="0" y2="1"><stop offset="0" stop-color="#ffffff"/><stop offset="1" stop-color="#bcc6dc"/></linearGradient><linearGradient id="gs" x1="0" y1="1" x2="1" y2="0"><stop offset="0" stop-color="#18a018"/><stop offset="1" stop-color="#c4e0bc"/></linearGradient></defs>
<g><path d="M87.6 2.3 L98 10.2 L97.6 11.6 L90.4 16.8 L82 10.9 Z" fill="#c8900c" stroke="#a06808" stroke-width="0.8" stroke-linejoin="round"/><path d="M87.8 2.8 L96.6 9 L89.6 14.6 L82.8 10.2 Z" fill="url(#gb)"/><path d="M82.6 10.8 L90.2 15.8" fill="none" stroke="#f4d870" stroke-width="1.3"/><path d="M96.8 9.8 L90.6 15.2 L90.8 16 L97.4 10.8 Z" fill="#f0e6b0"/></g>
<g><path d="M112.2 1.6 L122.8 1.6 L122.8 11 L112.2 11 Z" fill="#2a9cf6"/><path d="M112.2 1.6 L115.6 3.6 L115.6 11 L112.2 11 Z" fill="#0a84ea"/><path d="M112.2 1.6 L122.8 1.6 L122.8 3.4 L115.6 3.6 Z" fill="#7cc6fc"/><path d="M112.4 1.8 L115.6 3.7 L115.6 10.5" fill="none" stroke="#e8f4ff" stroke-width="0.6"/><rect x="117" y="5.7" width="4.8" height="1.2" fill="#e6f3ff"/><path d="M112.6 16.6 C109.4 16.6 109.4 12.2 112.8 12.2 C113.2 9.8 116.8 9.6 117.8 11 C119.4 9.2 122.6 10 122.8 12.2 C126.2 12 126.4 16.6 123.2 16.6 Z" fill="url(#cl)" stroke="#4a6aa8" stroke-width="0.9"/></g>
<g fill="none"><path d="M146 9 L146 16.8 A7.8 7.8 0 0 0 152.6 4.6 Z" fill="url(#gs)" opacity="0.9"/><path d="M146 1.5 A7.4 7.4 0 0 0 146 16.3" stroke="#4a78d0" stroke-width="1.1" opacity="0.75"/><path d="M146 1.5 A7.4 7.4 0 0 1 153.3 8" stroke="#88a8c8" stroke-width="1.1" opacity="0.7"/><path d="M146 4.3 A4.6 4.6 0 0 0 146 13.5" stroke="#5a84d4" stroke-width="1.1" opacity="0.7"/><path d="M146 4.3 A4.6 4.6 0 0 1 150.5 8.4" stroke="#98b4d0" stroke-width="1.1" opacity="0.7"/><path d="M146.6 9 L146.6 16.8" stroke="#18a018" stroke-width="1.3"/><circle cx="145.6" cy="8.6" r="1.8" fill="#1f55d0" stroke="none"/></g>
<g><path d="M165.4 8.2 L180.4 7.8 L176 14.5 L172.6 16.6 Z" fill="#fde45c" stroke="#c89810" stroke-width="0.8" stroke-linejoin="round"/><ellipse cx="173.1" cy="6.2" rx="7.9" ry="2.3" fill="#5ab0e8" stroke="#2888b8" stroke-width="0.8"/><path d="M169.3 6 C169.3 0.4 176.4 0.4 176.4 6 Z" fill="#6cbcf0" stroke="#2888b8" stroke-width="0.8"/><path d="M168 7.4 C171 8.6 175.5 8.6 178.4 7.4" fill="none" stroke="#3a98d0" stroke-width="0.8"/><circle cx="177.5" cy="12.9" r="4.1" fill="#e22a12" stroke="#b41a08" stroke-width="0.6"/><rect x="176.2" y="11.3" width="2.7" height="2.7" fill="#fff"/></g>
<path d="M191.30 2.10 L190.60 3.30 M187.50 3.00 L187.50 13.00 M196.50 3.00 L196.50 13.00 M187.50 3.50 L196.50 3.50 M187.50 5.50 L196.50 5.50 M187.50 8.50 L196.50 8.50 M187.50 11.50 L196.50 11.50" fill="none" stroke="#000" stroke-width="1.05" stroke-linecap="butt" stroke-linejoin="miter"/>
<path d="M199.10 3.50 L204.00 3.50 M198.30 6.50 L204.20 6.50 M201.20 6.80 L199.40 11.40 M199.30 11.60 L203.70 11.00 M203.10 8.90 L204.10 12.00 M204.30 4.50 L209.50 4.50 M206.40 2.10 L206.40 7.70 L204.20 12.40 M209.00 4.50 L209.00 12.00 L206.90 12.50" fill="none" stroke="#000" stroke-width="1.05" stroke-linecap="butt" stroke-linejoin="miter"/>
<path d="M216.00 2.10 L216.00 3.80 M210.50 4.50 L221.70 4.50 M213.50 6.20 L211.40 8.60 M218.50 6.20 L220.60 8.60 M219.40 8.00 L216.00 11.10 L210.80 12.70 M212.60 8.00 L216.00 11.10 L221.50 12.70" fill="none" stroke="#000" stroke-width="1.05" stroke-linecap="butt" stroke-linejoin="miter"/>
<path d="M224.50 2.50 L231.50 2.50 L231.50 7.00 L224.50 7.00 L224.50 2.50 M224.50 4.80 L231.50 4.80 M224.30 7.40 L222.30 9.60 M223.70 8.50 L232.70 8.50 L232.10 12.20 L229.80 12.60 M227.00 8.90 L223.00 12.40 M229.80 8.90 L226.20 12.70" fill="none" stroke="#000" stroke-width="1.05" stroke-linecap="butt" stroke-linejoin="miter"/>
<rect x="241" y="0" width="1" height="20" fill="#a0a0a0" shape-rendering="crispEdges"/>
<rect x="245" y="1" width="3" height="1" fill="#b4b4b4" shape-rendering="crispEdges"/>
<rect x="245" y="3" width="3" height="1" fill="#b4b4b4" shape-rendering="crispEdges"/>
<rect x="245" y="5" width="3" height="1" fill="#b4b4b4" shape-rendering="crispEdges"/>
<rect x="245" y="7" width="3" height="1" fill="#b4b4b4" shape-rendering="crispEdges"/>
<rect x="245" y="9" width="3" height="1" fill="#b4b4b4" shape-rendering="crispEdges"/>
<rect x="245" y="11" width="3" height="1" fill="#b4b4b4" shape-rendering="crispEdges"/>
<rect x="245" y="13" width="3" height="1" fill="#b4b4b4" shape-rendering="crispEdges"/>
<rect x="245" y="15" width="3" height="1" fill="#b4b4b4" shape-rendering="crispEdges"/>
<rect x="245" y="17" width="3" height="1" fill="#b4b4b4" shape-rendering="crispEdges"/>
<g stroke="#505050" stroke-width="1.2" fill="#505050"><path d="M259.5 4 L259.5 17" fill="none"/><path d="M257 14.5 L270 14.5" fill="none"/><path d="M257.7 5.5 L259.5 3 L261.3 5.5 Z" stroke="none"/><path d="M269 12.7 L271.5 14.5 L269 16.3 Z" stroke="none"/></g>
<path d="M263 11.5 L265.5 11.5 M265.5 4.5 L265.5 12.5 M265.5 5.5 L268 5.5" stroke="#1a8a1a" stroke-width="1.4" fill="none"/>
<rect x="279" y="0" width="1" height="19" fill="#a0a0a0" shape-rendering="crispEdges"/>
<rect x="280" y="0" width="24" height="19" fill="#f8f8f8" shape-rendering="crispEdges"/>
<g stroke="#505050" stroke-width="1.2" fill="#505050"><path d="M287.5 4 L287.5 17" fill="none"/><path d="M285 14.5 L298 14.5" fill="none"/><path d="M285.7 5.5 L287.5 3 L289.3 5.5 Z" stroke="none"/><path d="M297 12.7 L299.5 14.5 L297 16.3 Z" stroke="none"/></g>
<path d="M293.5 1 L293.5 13" stroke="#0a7a0a" stroke-width="1.2"/><rect x="291.5" y="3.5" width="4" height="7" fill="#35d235" stroke="#0a8a0a" stroke-width="1"/>
<g stroke="#505050" stroke-width="1.2" fill="#505050"><path d="M315.5 4 L315.5 17" fill="none"/><path d="M313 14.5 L326 14.5" fill="none"/><path d="M313.7 5.5 L315.5 3 L317.3 5.5 Z" stroke="none"/><path d="M325 12.7 L327.5 14.5 L325 16.3 Z" stroke="none"/></g>
<path d="M314.5 11.5 C317 9 318.5 5.5 320.5 6.2 C322.5 7 324 9.5 326 10.2" stroke="#1a8a1a" stroke-width="1.3" fill="none"/>
<rect x="336" y="0" width="1" height="19" fill="#a0a0a0" shape-rendering="crispEdges"/>
<g><path d="M355 11 L360 16" stroke="#b8941c" stroke-width="3" stroke-linecap="round"/><path d="M355.4 10.6 L359.8 15" stroke="#f0d050" stroke-width="1.2" stroke-linecap="round"/><circle cx="351" cy="7" r="5.5" fill="#d6eafc" stroke="#2f74c8" stroke-width="1.2"/><path d="M348 7 L354 7" stroke="#2f6fc0" stroke-width="1.8"/><path d="M351 4 L351 10" stroke="#2f6fc0" stroke-width="1.8"/></g>
<g><path d="M383 11 L388 16" stroke="#b8941c" stroke-width="3" stroke-linecap="round"/><path d="M383.4 10.6 L387.8 15" stroke="#f0d050" stroke-width="1.2" stroke-linecap="round"/><circle cx="379" cy="7" r="5.5" fill="#d6eafc" stroke="#2f74c8" stroke-width="1.2"/><path d="M376 7 L382 7" stroke="#2f6fc0" stroke-width="1.8"/></g>
<rect x="401" y="1" width="8" height="8" rx="0.8" fill="#3fa010"/><path d="M402.6 4.2 L407.6 4.2 L408 7.8 L402.2 7.8 Z" fill="#ffffff"/><rect x="403.2" y="5.2" width="3.8" height="0.9" fill="#8fd070"/><rect x="402.2" y="2.2" width="1" height="1" fill="#e8f4e8"/>
<rect x="409" y="1" width="8" height="8" rx="0.8" fill="#2254d4"/><path d="M410.6 4.2 L415.6 4.2 L416 7.8 L410.2 7.8 Z" fill="#ffffff"/><rect x="411.2" y="5.2" width="3.8" height="0.9" fill="#86a6f0"/><rect x="410.2" y="2.2" width="1" height="1" fill="#e8f4e8"/>
<rect x="401" y="9" width="8" height="8" rx="0.8" fill="#2254d4"/><path d="M402.6 12.2 L407.6 12.2 L408 15.8 L402.2 15.8 Z" fill="#ffffff"/><rect x="403.2" y="13.2" width="3.8" height="0.9" fill="#86a6f0"/><rect x="402.2" y="10.2" width="1" height="1" fill="#e8f4e8"/>
<rect x="409" y="9" width="8" height="8" rx="0.8" fill="#3fa010"/><path d="M410.6 12.2 L415.6 12.2 L416 15.8 L410.2 15.8 Z" fill="#ffffff"/><rect x="411.2" y="13.2" width="3.8" height="0.9" fill="#8fd070"/><rect x="410.2" y="10.2" width="1" height="1" fill="#e8f4e8"/>
<rect x="426" y="0" width="1" height="19" fill="#a0a0a0" shape-rendering="crispEdges"/>
<rect x="431" y="0" width="1" height="19" fill="#a0a0a0" shape-rendering="crispEdges"/>
<rect x="432" y="0" width="24" height="19" fill="#f8f8f8" shape-rendering="crispEdges"/>
<g stroke="#505050" stroke-width="1.2" fill="#505050"><path d="M439.5 4 L439.5 17" fill="none"/><path d="M437 14.5 L450 14.5" fill="none"/><path d="M437.7 5.5 L439.5 3 L441.3 5.5 Z" stroke="none"/><path d="M449 12.7 L451.5 14.5 L449 16.3 Z" stroke="none"/></g>
<path d="M444 5 L444 12 L448.5 8.5 Z" fill="#7be07b" stroke="#1a9a1a" stroke-width="1"/>
<rect x="459" y="0" width="1" height="19" fill="#a0a0a0" shape-rendering="crispEdges"/>
<rect x="460" y="0" width="24" height="19" fill="#f8f8f8" shape-rendering="crispEdges"/>
<g stroke="#505050" stroke-width="1.2" fill="#505050"><path d="M467.5 4 L467.5 17" fill="none"/><path d="M465 14.5 L478 14.5" fill="none"/><path d="M465.7 5.5 L467.5 3 L469.3 5.5 Z" stroke="none"/><path d="M477 12.7 L479.5 14.5 L477 16.3 Z" stroke="none"/></g>
<path d="M473.5 3 L473.5 13" stroke="#2a6fc8" stroke-width="1.2"/><path d="M479 8.5 L475 8.5 M477 6.5 L474.8 8.5 L477 10.5" stroke="#e05a10" stroke-width="1.2" fill="none"/>
<rect x="488" y="0" width="1" height="19" fill="#a0a0a0" shape-rendering="crispEdges"/>
<g><path d="M498.5 2.5 L506.5 2.5 L509.5 5.5 L509.5 14.5 L498.5 14.5 Z" fill="#fdfdfd" stroke="#8a8a8a" stroke-width="1"/><path d="M506.5 2.5 L506.5 5.5 L509.5 5.5" fill="none" stroke="#8a8a8a"/><path d="M502.5 5 C501 5 501.5 8 500.8 8.5 C501.5 9 501 12 502.5 12" fill="none" stroke="#707070" stroke-width="0.9"/><path d="M506.5 8 L509.5 8 L509.5 11.5 L513 11.5 L513 14.5 L509.5 14.5 L509.5 18 L506.5 18 L506.5 14.5 L503 14.5 L503 11.5 L506.5 11.5 Z" fill="#22c322" stroke="#0a8a0a" stroke-width="1"/><path d="M507.6 9 L507.6 17 M504 12.6 L512 12.6" stroke="#8cf08c" stroke-width="1" fill="none"/></g>
<path d="M519.5 8 L525.5 8 L522.5 11 Z" fill="#000"/>
<g><defs><linearGradient id="ck" x1="0" y1="0" x2="1" y2="1"><stop offset="0" stop-color="#4a9cf2"/><stop offset="1" stop-color="#0a389a"/></linearGradient></defs><circle cx="544" cy="9" r="6.5" fill="#f4f9ff" stroke="url(#ck)" stroke-width="2.8"/><path d="M543.6 5.2 L543.6 9.3 L546.6 9.8" fill="none" stroke="#404040" stroke-width="1.1"/><circle cx="544" cy="13" r="0.8" fill="#6aa0e0"/></g>
<path d="M558.5 8 L564.5 8 L561.5 11 Z" fill="#000"/>
<g><rect x="575.5" y="2.5" width="15" height="13" fill="#fdfdfd" stroke="#3a78c8" stroke-width="1.2"/><rect x="576" y="3" width="14" height="1.8" fill="#7ab0ec"/><path d="M577 9.2 L590 9.2" stroke="#3a78c8" stroke-width="1"/><path d="M577.5 8 L580 7 L582 7.2 L584 6.2 L586 6.8 L588.5 6" stroke="#b02a10" stroke-width="1.3" fill="none"/><path d="M578 13.5 L580.5 13 L582.5 13.2 L585.5 11.2 L588.5 13.6" stroke="#1a8a1a" stroke-width="1.3" fill="none"/></g>
<path d="M597.5 8 L603.5 8 L600.5 11 Z" fill="#000"/>
<rect x="609" y="0" width="1" height="20" fill="#a0a0a0" shape-rendering="crispEdges"/>
<rect x="613" y="1" width="3" height="1" fill="#b4b4b4" shape-rendering="crispEdges"/>
<rect x="613" y="3" width="3" height="1" fill="#b4b4b4" shape-rendering="crispEdges"/>
<rect x="613" y="5" width="3" height="1" fill="#b4b4b4" shape-rendering="crispEdges"/>
<rect x="613" y="7" width="3" height="1" fill="#b4b4b4" shape-rendering="crispEdges"/>
<rect x="613" y="9" width="3" height="1" fill="#b4b4b4" shape-rendering="crispEdges"/>
<rect x="613" y="11" width="3" height="1" fill="#b4b4b4" shape-rendering="crispEdges"/>
<rect x="613" y="13" width="3" height="1" fill="#b4b4b4" shape-rendering="crispEdges"/>
<rect x="613" y="15" width="3" height="1" fill="#b4b4b4" shape-rendering="crispEdges"/>
<rect x="613" y="17" width="3" height="1" fill="#b4b4b4" shape-rendering="crispEdges"/>
<rect x="619" y="0" width="1" height="19" fill="#a0a0a0" shape-rendering="crispEdges"/>
<rect x="620" y="0" width="24" height="19" fill="#f8f8f8" shape-rendering="crispEdges"/>
<path d="M627.5 2 L627.5 13.2 L630.3 10.8 L632.6 16.4 L634.4 15.6 L632.2 10.2 L635.8 10.2 Z" fill="#484848"/>
<path d="M659.5 2 L659.5 17 M652 9.5 L667 9.5" stroke="#585858" stroke-width="1" fill="none" shape-rendering="crispEdges"/><rect x="658" y="8" width="3" height="3" fill="#f0f0f0"/><rect x="659" y="9" width="1" height="1" fill="#585858"/>
<rect x="676" y="0" width="1" height="19" fill="#a0a0a0" shape-rendering="crispEdges"/>
<path d="M693.5 3 L693.5 16" stroke="#505050" stroke-width="1.2"/>
<path d="M716 9.5 L728 9.5" stroke="#505050" stroke-width="1.2"/>
<path d="M744 16 L756 4" stroke="#505050" stroke-width="1.1"/>
<g stroke="#505050" stroke-width="0.9" fill="none"><path d="M770 10.5 L780 3.5 M772 15.5 L783.5 7.5 M771 13 L782 5.5"/><path d="M773.5 8 L774 14.5 M776 6.5 L776.5 13 M778.5 4.5 L779 11 M781.5 1.5 L782 8.5"/></g>
<text x="781" y="18" font-size="6.5" font-weight="bold" fill="#404040">E</text>
<line x1="799" y1="2.5" x2="812" y2="2.5" stroke="#505050" stroke-width="1" stroke-dasharray="1,1" shape-rendering="crispEdges"/>
<line x1="799" y1="5.5" x2="812" y2="5.5" stroke="#505050" stroke-width="1" stroke-dasharray="1,1" shape-rendering="crispEdges"/>
<line x1="799" y1="9.5" x2="812" y2="9.5" stroke="#505050" stroke-width="1" stroke-dasharray="1,1" shape-rendering="crispEdges"/>
<line x1="799" y1="13.5" x2="812" y2="13.5" stroke="#505050" stroke-width="1" stroke-dasharray="1,1" shape-rendering="crispEdges"/>
<text x="809" y="18" font-size="6.5" font-weight="bold" fill="#404040">F</text>
<text x="829.6" y="14" font-size="11.5" fill="#505050" stroke="#505050" stroke-width="0.3">A</text>
<rect x="856.5" y="3.5" width="11" height="12" fill="none" stroke="#505050" stroke-width="1" stroke-dasharray="1,1" shape-rendering="crispEdges"/>
<text x="862.2" y="14" font-size="10.5" font-weight="bold" fill="#505050" text-anchor="middle">T</text>
<g fill="#484848"><path d="M883 6.2 L886.5 3 L890 6.2 L886.5 7.6 Z"/><path d="M890 13 L897 13 L893.5 16.5 Z"/><path d="M885.5 10.5 L887.8 12.8 L891.5 7.6" fill="none" stroke="#484848" stroke-width="1.3"/><path d="M890.5 11 L893.5 9.6 L896.5 11 L893.5 12.4 Z"/></g>
<path d="M903.5 8 L909.5 8 L906.5 11 Z" fill="#000"/>
<rect x="915" y="0" width="1" height="20" fill="#a0a0a0" shape-rendering="crispEdges"/>
<rect x="919" y="1" width="3" height="1" fill="#b4b4b4" shape-rendering="crispEdges"/>
<rect x="919" y="3" width="3" height="1" fill="#b4b4b4" shape-rendering="crispEdges"/>
<rect x="919" y="5" width="3" height="1" fill="#b4b4b4" shape-rendering="crispEdges"/>
<rect x="919" y="7" width="3" height="1" fill="#b4b4b4" shape-rendering="crispEdges"/>
<rect x="919" y="9" width="3" height="1" fill="#b4b4b4" shape-rendering="crispEdges"/>
<rect x="919" y="11" width="3" height="1" fill="#b4b4b4" shape-rendering="crispEdges"/>
<rect x="919" y="13" width="3" height="1" fill="#b4b4b4" shape-rendering="crispEdges"/>
<rect x="919" y="15" width="3" height="1" fill="#b4b4b4" shape-rendering="crispEdges"/>
<rect x="919" y="17" width="3" height="1" fill="#b4b4b4" shape-rendering="crispEdges"/>
<rect x="1066" y="0" width="24" height="19" fill="#f8f8f8" shape-rendering="crispEdges"/>
<text x="930.5" y="13" font-size="9.6" fill="#3c3c3c" textLength="12.5" lengthAdjust="spacingAndGlyphs">M1</text>
<text x="958.5" y="13" font-size="9.6" fill="#3c3c3c" textLength="12.8" lengthAdjust="spacingAndGlyphs">M5</text>
<text x="984.7" y="13" font-size="9.6" fill="#3c3c3c" textLength="17.3" lengthAdjust="spacingAndGlyphs">M15</text>
<text x="1012.5" y="13" font-size="9.6" fill="#3c3c3c" textLength="17.7" lengthAdjust="spacingAndGlyphs">M30</text>
<text x="1043.8" y="13" font-size="9.6" fill="#3c3c3c" textLength="11.2" lengthAdjust="spacingAndGlyphs">H1</text>
<text x="1070.6" y="13" font-size="9.6" fill="#3c3c3c" textLength="12.4" lengthAdjust="spacingAndGlyphs">H4</text>
<text x="1099.5" y="13" font-size="9.6" fill="#3c3c3c" textLength="11.8" lengthAdjust="spacingAndGlyphs">D1</text>
<text x="1127" y="13" font-size="9.6" fill="#3c3c3c" textLength="14.3" lengthAdjust="spacingAndGlyphs">W1</text>
<text x="1153.6" y="13" font-size="9.6" fill="#3c3c3c" textLength="14.7" lengthAdjust="spacingAndGlyphs">MN</text>
<rect x="1065" y="0" width="1" height="19" fill="#a0a0a0" shape-rendering="crispEdges"/>
<rect x="1176" y="0" width="1" height="20" fill="#a0a0a0" shape-rendering="crispEdges"/>
<g><path d="M1644.6 9 L1639.2 14.2" stroke="#2c5fc8" stroke-width="2.4" stroke-linecap="round"/><circle cx="1647.3" cy="6.3" r="3.4" fill="#f4f8ff" stroke="#2c5fc8" stroke-width="1.5"/></g>
<g><path d="M1664 9 C1664 6.5 1667 5.5 1669.5 5.5 C1673 5.5 1675 7.5 1675 10 C1675 13 1672 14.5 1668.5 14.2 L1666 17 L1666.3 13.8 C1664.8 13 1664 11.5 1664 9 Z" fill="#e8e8e8" stroke="#b8b8b8" stroke-width="0.8"/><defs><radialGradient id="rb" cx="0.4" cy="0.35" r="0.75"><stop offset="0" stop-color="#ee5a44"/><stop offset="1" stop-color="#c81c12"/></radialGradient></defs><circle cx="1677.4" cy="6.8" r="8" fill="url(#rb)"/><text x="1677.4" y="11.3" font-size="12.5" fill="#fff" text-anchor="middle">1</text></g>
</svg></body></html>
